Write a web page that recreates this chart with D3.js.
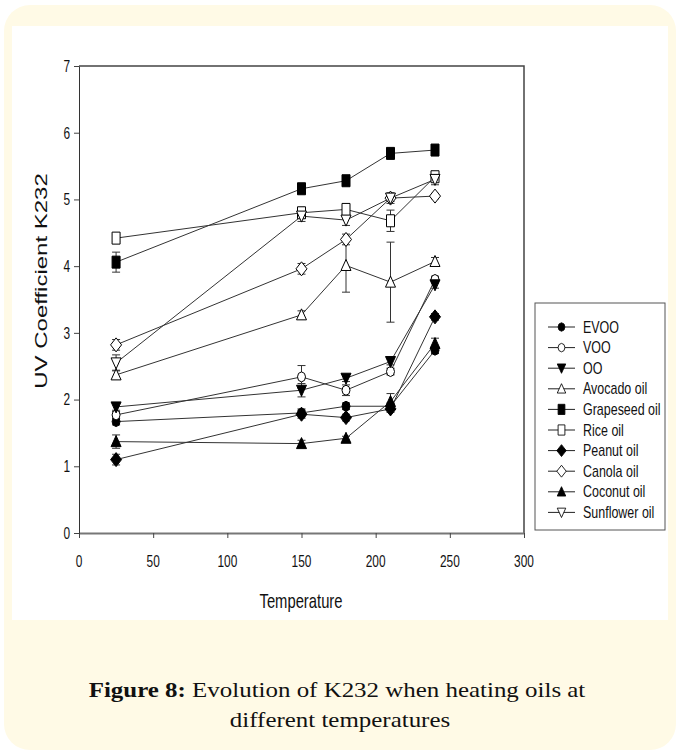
<!DOCTYPE html>
<html lang="en">
<head>
<meta charset="utf-8">
<title>Figure 8: Evolution of K232</title>
<style>
  body { margin: 0; background: #fff; }
  svg text { font-family: "Liberation Sans", Arial, Helvetica, sans-serif; fill: #111; }
  .caption text { font-family: "Liberation Serif", "Times New Roman", serif; }
</style>
</head>
<body>
<div id="chart"></div>
<script src="https://cdnjs.cloudflare.com/ajax/libs/d3/7.8.5/d3.min.js"></script>
<script>
// temperatures (x) and K232 readings per oil
var temps = [25, 150, 180, 210, 240];

var evoo      = [1.67, 1.80, 1.90, 1.90, 2.74];
var voo       = [1.77, 2.34, 2.14, 2.42, 3.80];
var oo        = [1.89, 2.14, 2.32, 2.57, 3.72];
var avocado   = [2.37, 3.27, 4.01, 3.76, 4.07];
var grapeseed = [4.06, 5.16, 5.28, 5.69, 5.74];
var rice      = [4.42, 4.80, 4.85, 4.68, 5.34];
var peanut    = [1.10, 1.78, 1.73, 1.86, 3.24];
var canola    = [2.82, 3.96, 4.40, 5.02, 5.05];
var coconut   = [1.37, 1.34, 1.42, 1.97, 2.84];
var sunflower = [2.55, 4.75, 4.69, 5.02, 5.30];

// standard deviations (error bars)
var evooErr      = [0.05, 0.06, 0.05, 0.05, 0.05];
var vooErr       = [0.05, 0.17, 0.08, 0.05, 0.05];
var ooErr        = [0.05, 0.10, 0.05, 0.05, 0.05];
var avocadoErr   = [0.07, 0.06, 0.40, 0.60, 0.06];
var grapeseedErr = [0.15, 0.04, 0.04, 0.06, 0.04];
var riceErr      = [0.05, 0.08, 0.04, 0.16, 0.06];
var peanutErr    = [0.08, 0.06, 0.05, 0.05, 0.05];
var canolaErr    = [0.08, 0.08, 0.08, 0.05, 0.04];
var coconutErr   = [0.10, 0.05, 0.03, 0.12, 0.08];
var sunflowerErr = [0.12, 0.08, 0.08, 0.08, 0.08];

var names   = ["EVOO", "VOO", "OO", "Avocado oil", "Grapeseed oil", "Rice oil", "Peanut oil", "Canola oil", "Coconut oil", "Sunflower oil"];
var values  = [evoo, voo, oo, avocado, grapeseed, rice, peanut, canola, coconut, sunflower];
var errors  = [evooErr, vooErr, ooErr, avocadoErr, grapeseedErr, riceErr, peanutErr, canolaErr, coconutErr, sunflowerErr];
var shapes  = ["dot", "dot", "triDown", "triUp", "square", "square", "diamond", "diamond", "triUp", "triDown"];
var filled  = [true, false, true, false, true, false, true, false, true, false];

var xTicks = [0, 50, 100, 150, 200, 250, 300];
var yTicks = [0, 1, 2, 3, 4, 5, 6, 7];

var W = 680, H = 751;

var svg = d3.select("#chart").append("svg")
  .attr("width", W)
  .attr("height", H);

// page frame
svg.append("rect").attr("x", 4).attr("y", 5).attr("width", 672).attr("height", 745)
  .attr("rx", 26).attr("fill", "#fffae6");
svg.append("rect").attr("x", 12).attr("y", 26).attr("width", 656).attr("height", 594)
  .attr("fill", "#fff");

var x = d3.scaleLinear().domain([0, 300]).range([79, 524]);
var y = d3.scaleLinear().domain([0, 7]).range([533, 66]);

// text that is squeezed sideways like the original
function narrowText(g, tx, ty, str, size, sx, anchor) {
  return g.append("text")
    .attr("transform", "translate(" + tx + "," + ty + ") scale(" + sx + ",1)")
    .attr("text-anchor", anchor || "start")
    .attr("dominant-baseline", "central")
    .style("font-size", size + "px")
    .text(str);
}

// marker shapes
function markerPath(shape) {
  if (shape == "dot") return "M0,-5 L3,-3.5 L4,0 L3,3.5 L0,5 L-3,3.5 L-4,0 L-3,-3.5Z";
  if (shape == "square") return "M-4,-6 H4 V6 H-4Z";
  if (shape == "diamond") return "M0,-7 L5.5,0 L0,7 L-5.5,0Z";
  if (shape == "triUp") return "M0,-6 L5,5 L-5,5Z";
  if (shape == "triDown") return "M0,6 L5,-5 L-5,-5Z";
}

// plot box (top and right)
svg.append("path")
  .attr("d", "M" + x(0) + "," + y(7) + " H" + x(300) + " V" + y(0))
  .attr("fill", "none").attr("stroke", "#444").attr("stroke-width", 1.5);

// axes
var axisX = svg.append("g")
  .attr("transform", "translate(0," + y(0) + ")")
  .call(d3.axisBottom(x).tickValues(xTicks).tickSize(5).tickSizeOuter(0).tickFormat(""));
var axisY = svg.append("g")
  .attr("transform", "translate(" + x(0) + ",0)")
  .call(d3.axisLeft(y).tickValues(yTicks).tickSize(5).tickSizeOuter(0).tickFormat(""));

axisX.select(".domain").attr("stroke", "#777").attr("stroke-width", 2);
axisY.select(".domain").attr("stroke", "#333").attr("stroke-width", 1);
svg.selectAll(".tick line").attr("stroke", "#444");

xTicks.forEach(function(t) {
  narrowText(svg, x(t), 561, t, 17, 0.7, "middle");
});
yTicks.forEach(function(t) {
  narrowText(svg, 70, y(t), t, 17, 0.7, "end");
});

narrowText(svg, 301, 601, "Temperature", 20, 0.74, "middle");

svg.append("text")
  .attr("transform", "translate(42,281) rotate(-90) scale(1.5,1)")
  .attr("text-anchor", "middle")
  .attr("dominant-baseline", "central")
  .style("font-size", "16px")
  .text("UV Coefficient K232");

// series lines
var line = d3.line()
  .x(function(d, i) { return x(temps[i]); })
  .y(function(d) { return y(d); });

var plot = svg.append("g");

values.forEach(function(vals) {
  plot.append("path")
    .datum(vals)
    .attr("d", line)
    .attr("fill", "none")
    .attr("stroke", "#333")
    .attr("stroke-width", 1);
});

// error bars
values.forEach(function(vals, k) {
  vals.forEach(function(v, i) {
    var e = errors[k][i];
    var cx = x(temps[i]);
    var g = plot.append("g").attr("stroke", "#333").attr("stroke-width", 1);
    g.append("line").attr("x1", cx).attr("x2", cx).attr("y1", y(v - e)).attr("y2", y(v + e));
    g.append("line").attr("x1", cx - 4).attr("x2", cx + 4).attr("y1", y(v - e)).attr("y2", y(v - e));
    g.append("line").attr("x1", cx - 4).attr("x2", cx + 4).attr("y1", y(v + e)).attr("y2", y(v + e));
  });
});

// markers
values.forEach(function(vals, k) {
  plot.selectAll(null)
    .data(vals)
    .enter().append("path")
    .attr("transform", function(d, i) { return "translate(" + x(temps[i]) + "," + y(d) + ")"; })
    .attr("d", markerPath(shapes[k]))
    .attr("fill", filled[k] ? "#000" : "#fff")
    .attr("stroke", "#000")
    .attr("stroke-width", 1);
});

// legend
var leg = svg.append("g");
leg.append("rect")
  .attr("x", 535).attr("y", 303).attr("width", 130).attr("height", 227)
  .attr("fill", "#fff").attr("stroke", "#555").attr("stroke-width", 1);

names.forEach(function(name, k) {
  var ly = 327 + k * 20.6;
  leg.append("line").attr("x1", 548).attr("x2", 575).attr("y1", ly).attr("y2", ly)
    .attr("stroke", "#222").attr("stroke-width", 1);
  leg.append("path")
    .attr("transform", "translate(561.5," + ly + ") scale(0.85)")
    .attr("d", markerPath(shapes[k]))
    .attr("fill", filled[k] ? "#000" : "#fff")
    .attr("stroke", "#000").attr("stroke-width", 1);
  narrowText(leg, 583, ly, name, 16, 0.78, "start");
});

// caption
var cap = svg.append("g").attr("class", "caption");
var l1 = cap.append("text")
  .attr("text-anchor", "middle")
  .style("font-size", "22px");
l1.append("tspan").style("font-weight", "bold").text("Figure 8:");
l1.append("tspan").text(" Evolution of K232 when heating oils at");
var l2 = cap.append("text")
  .attr("text-anchor", "middle")
  .style("font-size", "22px")
  .text("different temperatures");

// fit the first caption line to the width it has in the figure
var sx = 497 / l1.node().getComputedTextLength();
l1.attr("transform", "translate(337,697) scale(" + sx + ",1)");
l2.attr("transform", "translate(340,727) scale(" + sx + ",1)");
</script>
</body>
</html>
